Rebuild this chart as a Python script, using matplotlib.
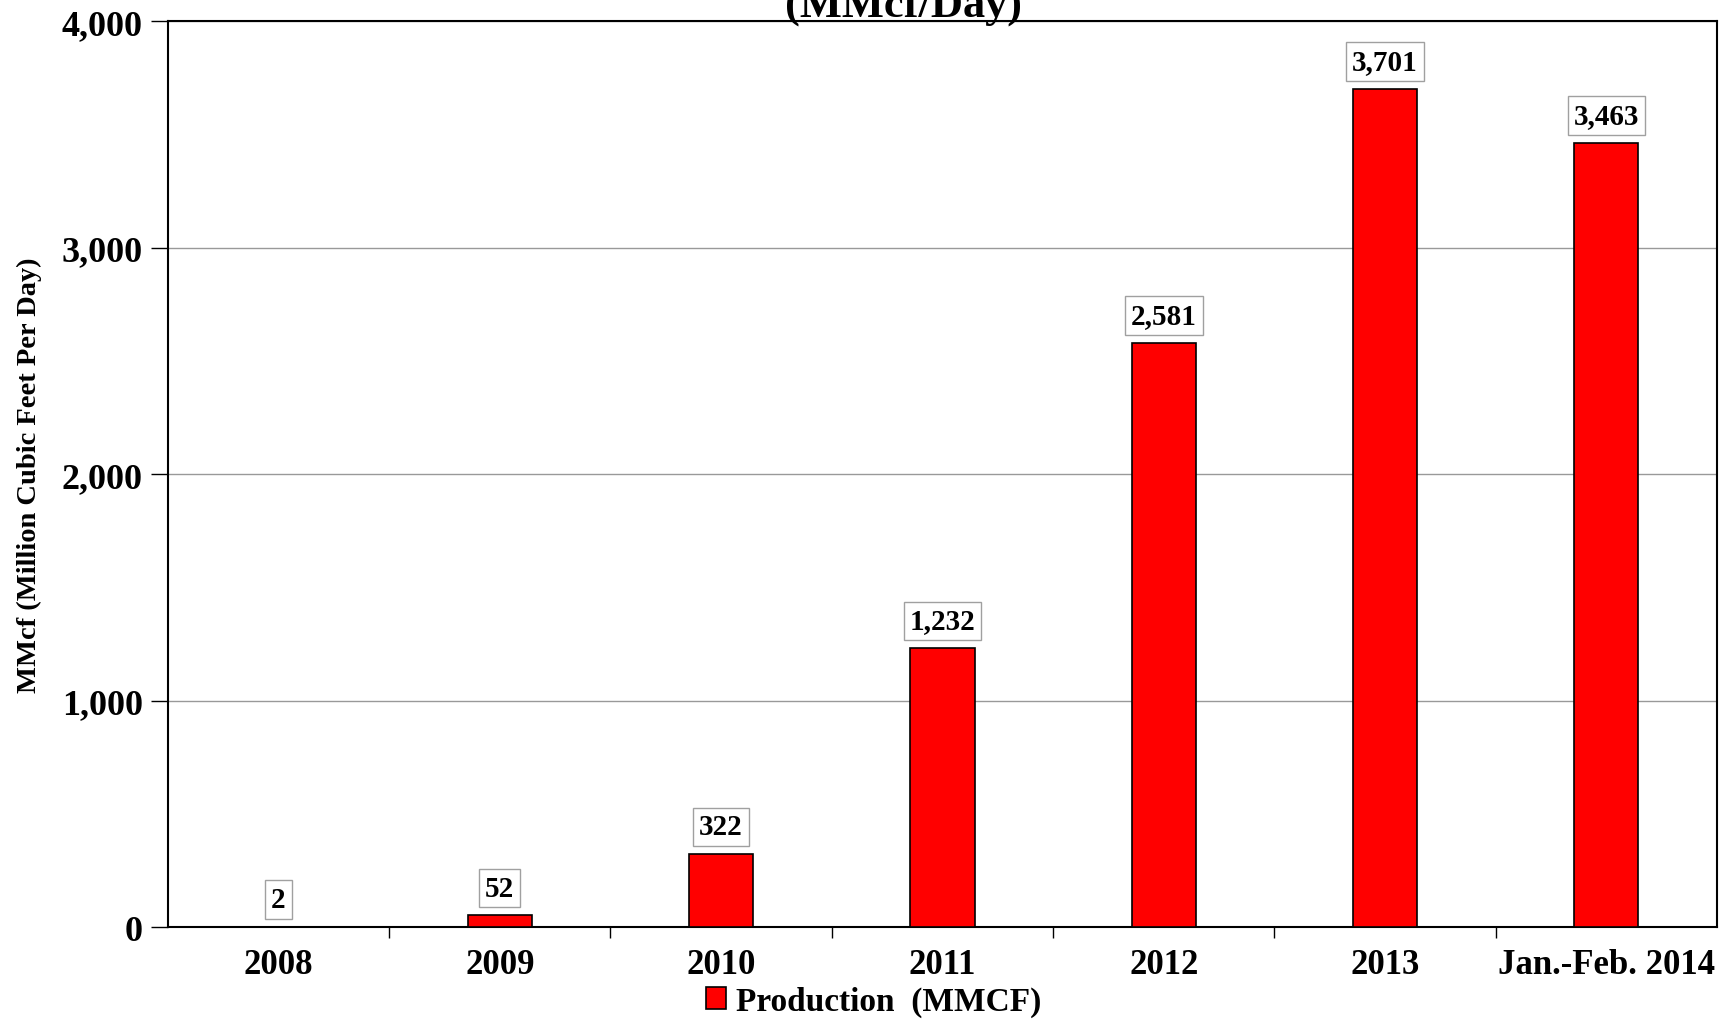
import matplotlib.pyplot as plt

# data
categories = ['2008', '2009', '2010', '2011', '2012', '2013', 'Jan.-Feb. 2014']
production = [2, 52, 322, 1232, 2581, 3701, 3463]
value_labels = ['2', '52', '322', '1,232', '2,581', '3,701', '3,463']
y_ticks = [0, 1000, 2000, 3000, 4000]
y_tick_labels = ['0', '1,000', '2,000', '3,000', '4,000']

plt.rcParams['font.family'] = ['Liberation Serif', 'DejaVu Serif']
plt.rcParams['font.weight'] = 'bold'

fig = plt.figure(figsize=(17.3, 10.2), dpi=100)
ax = fig.add_axes([0.097, 0.09, 0.8955, 0.888])

x = list(range(len(categories)))
bars = ax.bar(x, production, width=0.29, color='#ff0000', edgecolor='black',
              linewidth=1.2, label='Production  (MMCF)', zorder=3)

# value boxes above each bar
for xi, val, lab in zip(x, production, value_labels):
    ax.annotate(lab, (xi, val), xytext=(0, 10), textcoords='offset points',
                ha='center', va='bottom', fontsize=21, fontweight='bold',
                bbox=dict(boxstyle='square,pad=0.2', facecolor='white',
                          edgecolor='#a0a0a0', linewidth=1), zorder=4)

ax.set_xlim(-0.5, len(categories) - 0.5)
ax.set_ylim(0, 4000)
ax.set_yticks(y_ticks)
ax.set_yticklabels(y_tick_labels, fontsize=26, fontweight='bold')
ax.set_xticks(x)
ax.set_xticklabels(categories, fontsize=25, fontweight='bold')
ax.tick_params(axis='x', length=0, pad=15)
ax.set_xticks([i + 0.5 for i in x[:-1]], minor=True)
ax.tick_params(axis='x', which='minor', length=8, width=1, direction='out')
ax.tick_params(axis='y', length=12, width=1, direction='out', pad=6)

ax.yaxis.grid(True, color='#999999', linewidth=1, zorder=0)
for sp in ax.spines.values():
    sp.set_color('black')
    sp.set_linewidth(1.5)

ax.set_ylabel('MMcf (Million Cubic Feet Per Day)', fontsize=20.5,
              fontweight='bold', labelpad=14)

fig.text(0.522, 0.975, '(MMcf/Day)', ha='center', va='bottom',
         fontsize=32, fontweight='bold')

fig.legend(handles=[bars], labels=['Production  (MMCF)'], loc='lower center',
           bbox_to_anchor=(0.505, 0.002), frameon=False, fontsize=24,
           handlelength=0.6, handleheight=0.6, handletextpad=0.3,
           borderpad=0, borderaxespad=0)

fig.savefig('out.png', dpi=100)
